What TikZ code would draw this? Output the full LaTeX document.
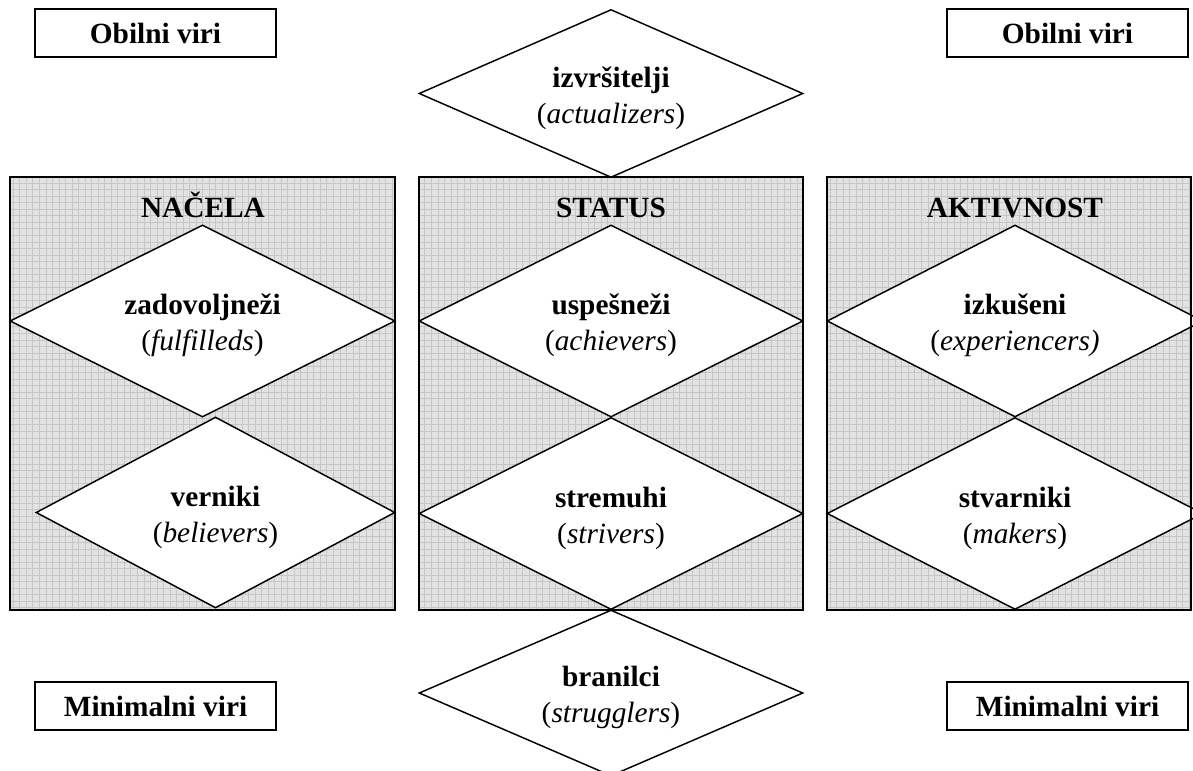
\documentclass[tikz,border=0pt]{standalone}
\usepackage{fontspec}
\setmainfont{Liberation Serif}
\usepackage{tikz}
\usetikzlibrary{shapes.geometric,positioning}
\definecolor{panelGray}{RGB}{226,226,226}
\definecolor{gridGray}{RGB}{198,198,198}
\newcommand{\segstrut}{\rule{0pt}{22pt}}

\begin{document}
\begin{tikzpicture}[x=0.75pt, y=-0.75pt,
  every node/.style={font=\fontsize{22}{27}\selectfont},
  segment/.style={diamond, draw, fill=white, line width=1.1pt, inner sep=0pt, align=center,
    shape aspect=2, minimum width=288pt, minimum height=144pt},
  resbox/.style={draw, line width=1.5pt, inner sep=0pt, minimum width=180.75pt, minimum height=36pt, font=\fontsize{22}{27}\selectfont\bfseries},
  panelframe/.style={draw, line width=1.5pt},
  paneltitle/.style={anchor=base, font=\fontsize{22}{27}\selectfont\bfseries}]
  \useasboundingbox (0,0) rectangle (1193,771);
  \clip (0,0) rectangle (1193,771);
  % Panels
  \foreach \xa/\xb in {10/395, 419/803, 827/1191} {
    \fill[panelGray] (\xa,177) rectangle (\xb,610);
    \draw[gridGray, line width=0.3pt, step=4.9pt] (\xa,177) grid (\xb,610);
  }
  % Segments
  \node[segment, minimum height=126pt] (izvrs) at (611,93.5) {\segstrut\textbf{izvršitelji}\\(\textit{actualizers})};
  \node[segment, minimum width=288.75pt] (zadov) at (202.5,321) {\segstrut\textbf{zadovoljneži}\\(\textit{fulfilleds})};
  \node[segment, minimum width=269.25pt, minimum height=143.25pt] (vern) at (215.5,512.5) {\segstrut\textbf{verniki}\\(\textit{believers})};
  \node[segment] (uspes) at (611,321) {\segstrut\textbf{uspešneži}\\(\textit{achievers})};
  \node[segment] (stremu) at (611,513.5) {\segstrut\textbf{stremuhi}\\(\textit{strivers})};
  \node[segment, minimum height=124.5pt] (branil) at (611,693) {\segstrut\textbf{branilci}\\(\textit{strugglers})};
  \node[segment, minimum width=282pt] (izkus) at (1015,321) {\segstrut\textbf{izkušeni}\\(\textit{experiencers)}};
  \node[segment, minimum width=282pt] (stvar) at (1015,513.5) {\segstrut\textbf{stvarniki}\\(\textit{makers})};
  \foreach \xa/\xb in {10/395, 419/803, 827/1191}
    \draw[panelframe] (\xa,177) rectangle (\xb,610);
  % Titles
  \node[paneltitle] (nacela) at (203,217) {NAČELA};
  \node[paneltitle] (status) at (611,217) {STATUS};
  \node[paneltitle] (aktiv) at (1015,217) {AKTIVNOST};
  % Resources
  \node[resbox] (obilL) at (155.5,33) {Obilni viri};
  \node[resbox] (obilR) at (1067.5,33) {Obilni viri};
  \node[resbox] (minL) at (155.5,706) {Minimalni viri};
  \node[resbox] (minR) at (1067.5,706) {Minimalni viri};
\end{tikzpicture}
\end{document}
